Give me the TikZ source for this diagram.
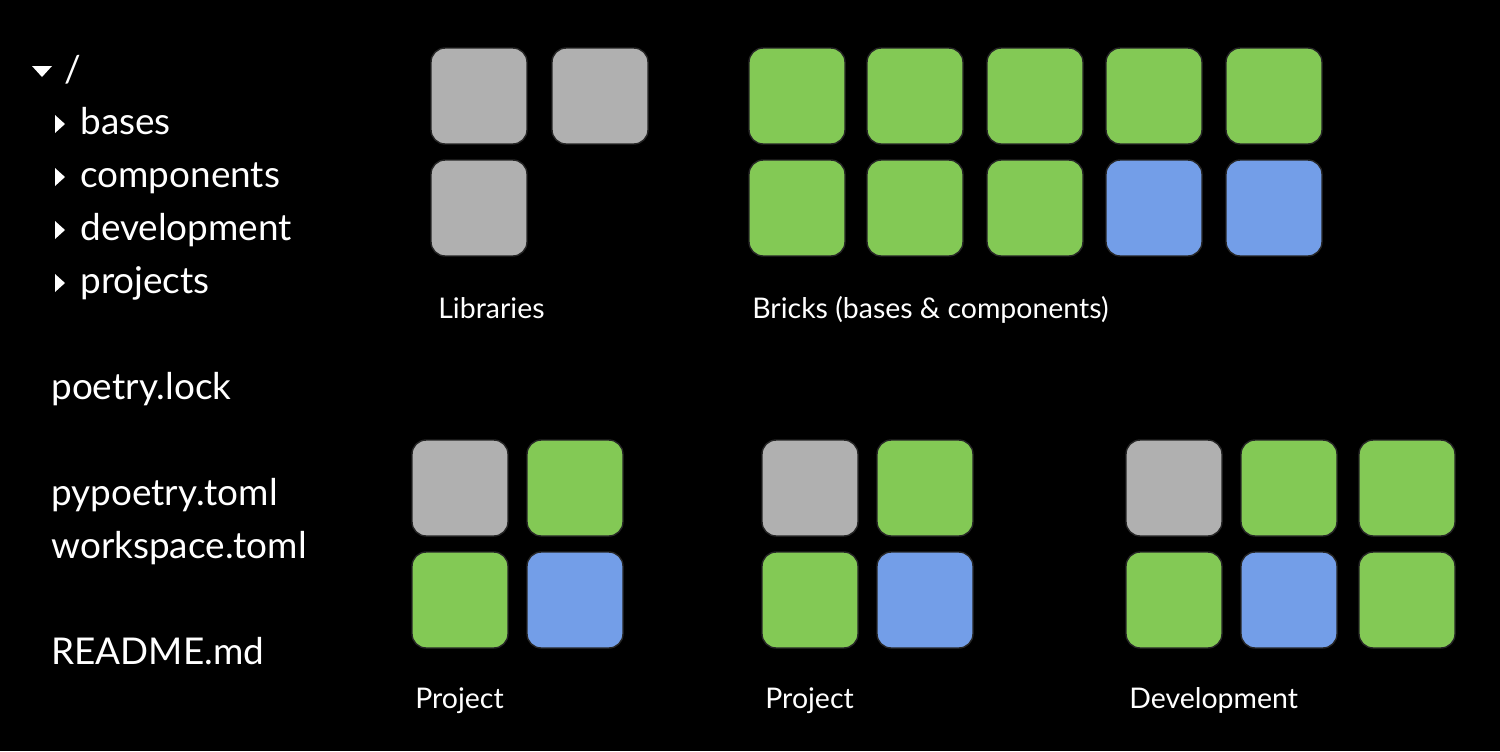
\documentclass[tikz,border=0pt]{standalone}
\usepackage{fontspec}
\setmainfont{Lato}
\definecolor{libgray}{HTML}{B0B0B0}
\definecolor{compgreen}{HTML}{83C955}
\definecolor{baseblue}{HTML}{739EE8}
\tikzset{
	box/.style={draw=black!85, line width=0.8pt, rounded corners=8pt, minimum size=1.92cm, inner sep=0pt},
	libbox/.style={box, fill=libgray},
	compbox/.style={box, fill=compgreen},
	basebox/.style={box, fill=baseblue},
	tree/.style={anchor=base west, inner sep=0pt, text=white!80, font=\fontsize{21}{24}\selectfont},
	caption/.style={anchor=base west, inner sep=0pt, text=white, font=\fontsize{16.2}{19}\selectfont}
}
\begin{document}
\begin{tikzpicture}[x=0.02cm, y=-0.02cm]
		\fill[black] (0,0) rectangle (1500,751);
		\useasboundingbox (0,0) rectangle (1500,751);
		
		% folder tree
		\fill[white!90] (32,66) -- (52,66) -- (42,77) -- cycle;
		\node[tree] (root) at (64,82) {/};
		\fill[white!90] (55,115) -- (65,124) -- (55,133) -- cycle;
		\node[tree] (t1) at (80,134) {bases};
		\fill[white!90] (55,168) -- (65,177) -- (55,186) -- cycle;
		\node[tree] (t2) at (80,187) {components};
		\fill[white!90] (55,221) -- (65,230) -- (55,239) -- cycle;
		\node[tree] (t3) at (80,240) {development};
		\fill[white!90] (55,274) -- (65,283) -- (55,292) -- cycle;
		\node[tree] (t4) at (80,293) {projects};
		\node[tree] (f1) at (51,399) {poetry.lock};
		\node[tree] (f2) at (51,505) {pypoetry.toml};
		\node[tree] (f3) at (51,558) {workspace.toml};
		\node[tree] (f4) at (51,664) {README.md};
		
		% libraries
		\node[libbox] (l1) at (479,96) {};
		\node[libbox] (l2) at (600,96) {};
		\node[libbox] (l3) at (479,208) {};
		\node[caption] (libs) at (438,318) {Libraries};
		
		% bricks
		\node[compbox] (b1) at (797,96) {};
		\node[compbox] (b2) at (915,96) {};
		\node[compbox] (b3) at (1035,96) {};
		\node[compbox] (b4) at (1154,96) {};
		\node[compbox] (b5) at (1274,96) {};
		\node[compbox] (b6) at (797,208) {};
		\node[compbox] (b7) at (915,208) {};
		\node[compbox] (b8) at (1035,208) {};
		\node[basebox] (b9) at (1154,208) {};
		\node[basebox] (b10) at (1274,208) {};
		\node[caption] (bricks) at (752,318) {Bricks (bases \& components)};
		
		% first project
		\node[libbox] (p1) at (460,488) {};
		\node[compbox] (p2) at (575,488) {};
		\node[compbox] (p3) at (460,600) {};
		\node[basebox] (p4) at (575,600) {};
		\node[caption] (proj1) at (415,708) {Project};
		
		% second project
		\node[libbox] (q1) at (810,488) {};
		\node[compbox] (q2) at (925,488) {};
		\node[compbox] (q3) at (810,600) {};
		\node[basebox] (q4) at (925,600) {};
		\node[caption] (proj2) at (765,708) {Project};
		
		% development
		\node[libbox] (d1) at (1174,488) {};
		\node[compbox] (d2) at (1289,488) {};
		\node[compbox] (d3) at (1407,488) {};
		\node[compbox] (d4) at (1174,600) {};
		\node[basebox] (d5) at (1289,600) {};
		\node[compbox] (d6) at (1407,600) {};
		\node[caption] (dev) at (1129,708) {Development};
		
	\end{tikzpicture}
\end{document}
